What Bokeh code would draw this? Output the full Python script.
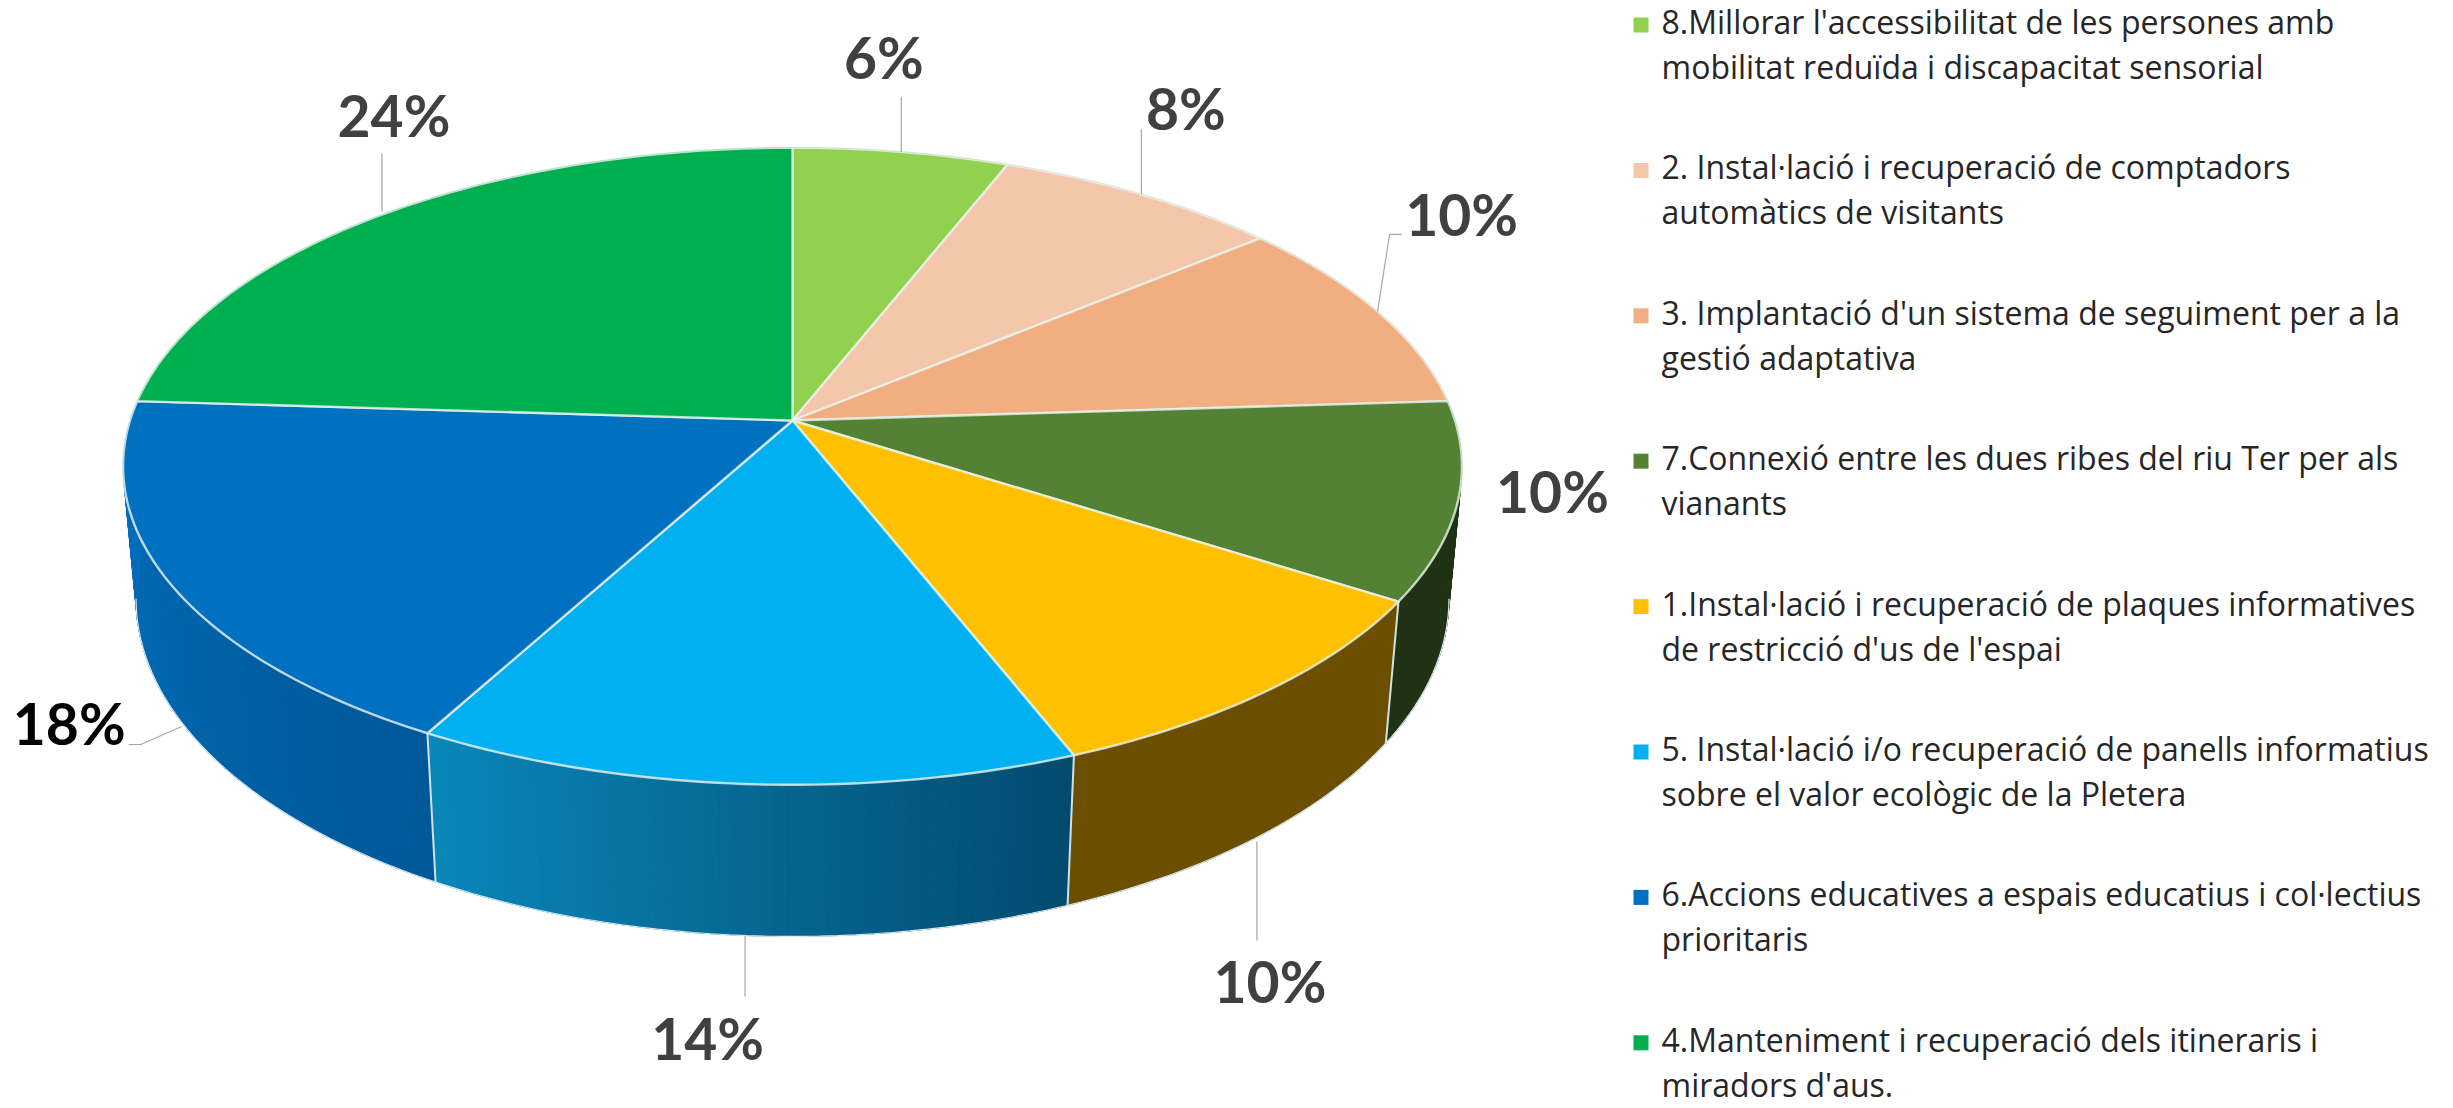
import numpy as np
from bokeh.plotting import figure
from bokeh.models import Range1d
from bokeh.core.properties import value
from bokeh.embed import file_html
from bokeh.resources import INLINE

# ---- data (clockwise from 12 o'clock) ----
shares = [6, 8, 10, 10, 10, 14, 18, 24]
labels = ["6%", "8%", "10%", "10%", "10%", "14%", "18%", "24%"]
legend_lines = [
    ["8.Millorar l'accessibilitat de les persones amb", "mobilitat reduïda i discapacitat sensorial"],
    ["2. Instal·lació i recuperació de comptadors", "automàtics de visitants"],
    ["3. Implantació d'un sistema de seguiment per a la", "gestió adaptativa"],
    ["7.Connexió entre les dues ribes del riu Ter per als", "vianants"],
    ["1.Instal·lació i recuperació de plaques informatives", "de restricció d'us de l'espai"],
    ["5. Instal·lació i/o recuperació de panells informatius", "sobre el valor ecològic de la Pletera"],
    ["6.Accions educatives a espais educatius i col·lectius", "prioritaris"],
    ["4.Manteniment i recuperació dels itineraris i", "miradors d'aus."],
]
top_colors = ["#92D050", "#F4C7AB", "#F1AE80", "#548235", "#FFC000", "#00B0F0", "#0070C0", "#00B050"]
side_from = ["#587D30", "#927767", "#91684D", "#1F3314", "#6B4E00", "#024A6E", "#005899", "#006A30"]
side_to = ["#587D30", "#927767", "#91684D", "#1F3314", "#6B4E00", "#0A87BA", "#0070BE", "#006A30"]
label_colors = ["#404040", "#404040", "#404040", "#404040", "#404040", "#404040", "#000000", "#404040"]

# ---- layout ----
W, H = 2453, 1108
OX, OY = 0, 0
CX = 792
TOP = dict(a=662.5, b=312.0, k=0.1435, y0=420.0)
BOT = dict(a=650.0, b=331.0, k=0.14, y0=551.0)
label_off = [(-17.5, -72.5), (44.5, -64), (84, -75), (94.5, 12.5),
             (13, 166), (-37.5, 124), (-112.5, 23), (12, -78)]
leader_off = [[(0, 0), (0, -55)], [(0, 0), (0, -65)], [(0, 0), (12, -77), (24, -77)], [],
              [(0, 4), (0, 103)], [(0, 0), (0, 61)], [(0, 4), (-41, 22), (-53, 22)], [(0, -3), (0, -61)]]
anchor_ring = ["top", "top", "top", "top", "bot", "bot", "bot", "top"]
LABEL_SHIFT = -22      # the svg text sits lower than its given baseline
LEG_TEXT_SHIFT = -11
LEG_X, LEG_MX = 1661, 1640.5
LEG_Y0, LEG_STEP, LEG_LINE = 32, 145.4, 45


def ring(theta, r):
    s, c = np.sin(theta), np.cos(theta)
    d = 1 + r["k"] * c
    return CX + r["a"] * s / d, r["y0"] - r["b"] * c / d


def hex2rgb(h):
    return np.array([int(h[i:i + 2], 16) for i in (1, 3, 5)], float)


def rgb2hex(v):
    return "#%02x%02x%02x" % tuple(int(round(x)) for x in v)


cum = np.concatenate([[0], np.cumsum(shares)])
theta = 2 * np.pi * cum / cum[-1]

p = figure(width=W, height=H, output_backend="svg", toolbar_location=None,
           x_range=Range1d(OX, OX + W), y_range=Range1d(OY + H, OY),
           x_axis_location=None, y_axis_location=None, min_border=0,
           outline_line_color=None, background_fill_color="white", border_fill_color="white")
p.grid.visible = False

# side wall, built of thin strips so it can carry the gradient
xs, ys, cs = [], [], []
for i in range(len(shares)):
    n = max(int((theta[i + 1] - theta[i]) / np.radians(1.0)), 2)
    grid = np.linspace(theta[i], theta[i + 1], n + 1)
    c0, c1 = hex2rgb(side_from[i]), hex2rgb(side_to[i])
    for j in range(n):
        t0, t1 = grid[j], grid[j + 1]
        xa, ya = ring(np.array([t0, t1]), TOP)
        xb, yb = ring(np.array([t1, t0]), BOT)
        xs.append(np.concatenate([xa, xb]).tolist())
        ys.append(np.concatenate([ya, yb]).tolist())
        cs.append(rgb2hex(c0 + (c1 - c0) * (j + 0.5) / n))
p.patches(xs, ys, fill_color=cs, line_color=cs, line_width=1)

# seams and lower rim on the visible part of the wall
k = TOP["k"]
seam_x, seam_y = [], []
for t in theta[:-1]:
    if np.cos(t) < -k:
        xa, ya = ring(t, TOP)
        xb, yb = ring(t, BOT)
        seam_x.append([xa, xb])
        seam_y.append([ya, yb])
p.multi_line(seam_x, seam_y, line_color="#CFE3E6", line_width=2)
near = np.linspace(np.arccos(-BOT["k"]), 2 * np.pi - np.arccos(-BOT["k"]), 120)
rx, ry = ring(near, BOT)
p.line(rx, ry, line_color="#D8E8EE", line_width=1.2)

# top faces
fx, fy = [], []
for i in range(len(shares)):
    n = max(int((theta[i + 1] - theta[i]) / np.radians(1.0)), 2)
    ax, ay = ring(np.linspace(theta[i], theta[i + 1], n + 1), TOP)
    fx.append([CX] + ax.tolist())
    fy.append([TOP["y0"]] + ay.tolist())
p.patches(fx, fy, fill_color=top_colors, line_color="#EAF4EE", line_alpha=0.8, line_width=2.4, line_join="round")

# leaders and value labels, anchored on the middle of each slice's rim
mid = (theta[:-1] + theta[1:]) / 2
lx, ly, tx, ty = [], [], [], []
for i, m in enumerate(mid):
    ax, ay = ring(m, TOP if anchor_ring[i] == "top" else BOT)
    if leader_off[i]:
        lx.append([ax + d[0] for d in leader_off[i]])
        ly.append([ay + d[1] for d in leader_off[i]])
    tx.append(ax + label_off[i][0])
    ty.append(ay + label_off[i][1] + LABEL_SHIFT)
p.multi_line(lx, ly, line_color="#A6A6A6", line_width=1.2)
p.text(tx, ty, text=labels, text_color=label_colors, text_font=value("Lato"), text_font_style="bold",
       text_font_size="57px", text_align="center", text_baseline="alphabetic")

# legend
mx, my, lgx, lgy, lgt = [], [], [], [], []
for i, lines in enumerate(legend_lines):
    base = LEG_Y0 + i * LEG_STEP
    mx.append(LEG_MX)
    my.append(base - 7.5)
    for j, s in enumerate(lines):
        lgx.append(LEG_X)
        lgy.append(base + j * LEG_LINE + LEG_TEXT_SHIFT)
        lgt.append(s)
p.scatter(mx, my, marker="square", size=15, fill_color=top_colors, line_color=None)
p.text(lgx, lgy, text=lgt, text_color="#262626", text_font=value("Open Sans"), text_font_size="32px",
       text_align="left", text_baseline="alphabetic")

open("out.html", "w").write(file_html(p, INLINE))
